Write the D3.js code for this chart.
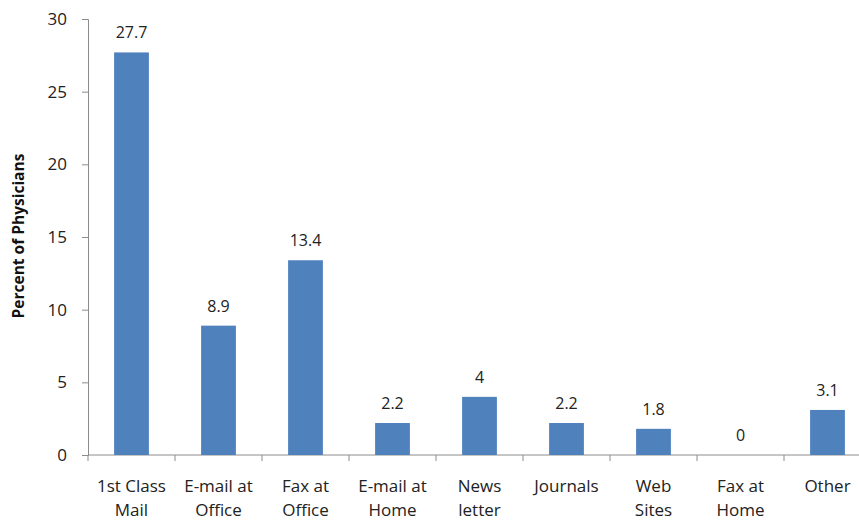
<!DOCTYPE html>
<html>
<head>
<meta charset="utf-8">
<script src="https://cdn.jsdelivr.net/npm/d3@7"></script>
<style>
  html, body { margin: 0; padding: 0; background: #fff; }
  svg { display: block; font-family: "Open Sans", "Noto Sans", sans-serif; }
</style>
</head>
<body>
<svg id="chart" width="859" height="524"></svg>
<script>
// Preferred channels for receiving information, percent of physicians
const categories = [
  ["1st Class", "Mail"],
  ["E-mail at", "Office"],
  ["Fax at", "Office"],
  ["E-mail at", "Home"],
  ["News", "letter"],
  ["Journals"],
  ["Web", "Sites"],
  ["Fax at", "Home"],
  ["Other"]
];
const values = [27.7, 8.9, 13.4, 2.2, 4, 2.2, 1.8, 0, 3.1];
const yTicks = [0, 5, 10, 15, 20, 25, 30];
const yTitle = "Percent of Physicians";

const svg = d3.select("#chart");
const plotLeft = 88, plotTop = 19, plotBottom = 455;
const step = 87;
const plotRight = plotLeft + step * categories.length;

const keys = categories.map((c, i) => i);
const x = d3.scaleBand().domain(keys).range([plotLeft, plotRight])
  .paddingInner(0.6).paddingOuter(0.3);
const y = d3.scaleLinear().domain([0, 30]).range([plotBottom, plotTop]);

const axisColor = "#8c8c8c";
const fontStack = "'Open Sans', 'Noto Sans', sans-serif";

// y axis
const yAxis = svg.append("g")
  .attr("transform", `translate(${plotLeft},0)`)
  .call(d3.axisLeft(y).tickValues(yTicks).tickSize(6).tickPadding(15).tickFormat(d3.format("d")));
yAxis.select(".domain").attr("stroke", axisColor);
yAxis.selectAll(".tick line").attr("stroke", axisColor);
yAxis.selectAll(".tick text").attr("fill", "#222").attr("font-size", 17)
  .attr("font-family", fontStack);

// x axis baseline and band boundary ticks
const edges = d3.range(categories.length + 1).map(i => plotLeft + i * x.step());
svg.append("line")
  .attr("x1", plotLeft).attr("x2", plotRight)
  .attr("y1", plotBottom).attr("y2", plotBottom)
  .attr("stroke", axisColor);
svg.append("g").selectAll("line").data(edges).join("line")
  .attr("x1", d => d).attr("x2", d => d)
  .attr("y1", plotBottom).attr("y2", plotBottom + 6)
  .attr("stroke", axisColor);

// bars
svg.append("g").selectAll("rect").data(values).join("rect")
  .attr("x", (d, i) => x(i))
  .attr("width", x.bandwidth())
  .attr("y", d => y(d))
  .attr("height", d => y(0) - y(d))
  .attr("fill", "#4f81bd");

// value labels
svg.append("g").selectAll("text").data(values).join("text")
  .attr("x", (d, i) => x(i) + x.bandwidth() / 2)
  .attr("y", d => y(d) - 14)
  .attr("text-anchor", "middle")
  .attr("font-size", 16)
  .attr("fill", "#222")
  .text(d => d);

// category labels
const catG = svg.append("g").selectAll("text").data(categories).join("text")
  .attr("x", (d, i) => x(i) + x.bandwidth() / 2)
  .attr("y", 492)
  .attr("text-anchor", "middle")
  .attr("font-size", 17)
  .attr("fill", "#222");
catG.selectAll("tspan").data(d => d).join("tspan")
  .attr("x", function() { return d3.select(this.parentNode).attr("x"); })
  .attr("dy", (d, i) => i === 0 ? 0 : 24)
  .text(d => d);

// y axis title
svg.append("text")
  .attr("transform", `translate(24,236) rotate(-90)`)
  .attr("text-anchor", "middle")
  .attr("font-size", 15.5)
  .attr("font-weight", "bold")
  .attr("fill", "#111")
  .text(yTitle);
</script>
</body>
</html>
